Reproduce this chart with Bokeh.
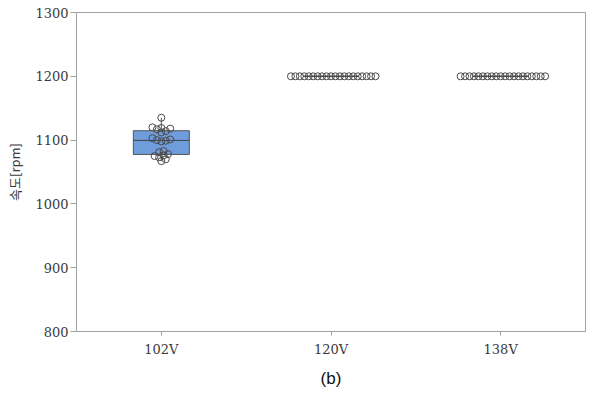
import numpy as np
from bokeh.plotting import figure
from bokeh.models import Range1d, FixedTicker
from bokeh.embed import file_html
from bokeh.resources import INLINE

categories = ["102V", "120V", "138V"]
speed_102 = [1135, 1120, 1119, 1118, 1117, 1114, 1112, 1103, 1101, 1100,
             1099, 1098, 1083, 1081, 1078, 1076, 1075, 1073, 1070, 1067]
speed_120 = [1200] * 20
speed_138 = [1200] * 20
groups = [speed_102, speed_120, speed_138]
y_ticks = [800, 900, 1000, 1100, 1200, 1300]

W, H = 589, 408
L, R, T, B = 76, 4, 12, 77
frame_w = W - L - R
frame_h = H - T - B
px_x = frame_w / 3.0
px_y = frame_h / 500.0

p = figure(width=W, height=H, output_backend="svg", toolbar_location=None,
           x_range=Range1d(0, 3), y_range=Range1d(800, 1300),
           min_border_left=L, min_border_right=R, min_border_top=T, min_border_bottom=B)
p.background_fill_color = "white"
p.border_fill_color = "white"
p.outline_line_color = "#a0a0a0"
p.outline_line_width = 1
p.xgrid.visible = False
p.ygrid.visible = False

# boxes
centers = [i + 0.5 for i in range(3)]
q1s, meds, q3s, los, his = [], [], [], [], []
for g in groups:
    a = np.array(g, dtype=float)
    q1, med, q3 = np.percentile(a, [25, 50, 75])
    iqr = q3 - q1
    lo = a[a >= q1 - 1.5 * iqr].min()
    hi = a[a <= q3 + 1.5 * iqr].max()
    q1s.append(q1); meds.append(med); q3s.append(q3); los.append(lo); his.append(hi)

bw = 0.33
p.segment(x0=centers, y0=q3s, x1=centers, y1=his, line_color="#555555", line_width=1)
p.segment(x0=centers, y0=los, x1=centers, y1=q1s, line_color="#555555", line_width=1)
p.vbar(x=centers, top=q3s, bottom=q1s, width=bw, fill_color="#6f9ddc",
       line_color="#555555", line_width=1)
p.segment(x0=[c - bw / 2 for c in centers], y0=meds, x1=[c + bw / 2 for c in centers],
          y1=meds, line_color="#444444", line_width=1)

# beeswarm (collision distance smaller than marker -> overlapping look)
d = 4.45
xs, ys = [], []
for c, g in zip(centers, groups):
    placed = []
    for v in sorted(g):
        vy = v * px_y
        k = 0
        while True:
            cand = [0.0] if k == 0 else [k * d * 0.5, -k * d * 0.5]
            ok_pos = None
            for off in cand:
                if all((off - ox) ** 2 + (vy - oy) ** 2 >= (d * 0.98) ** 2 for ox, oy in placed):
                    ok_pos = off
                    break
            if ok_pos is not None:
                placed.append((ok_pos, vy))
                break
            k += 1
    for o, vy in placed:
        xs.append(c + o / px_x)
        ys.append(vy / px_y)

p.scatter(x=xs, y=ys, size=7, marker="circle", fill_alpha=0,
          line_color="#4a4a4a", line_width=1)

p.xaxis.ticker = FixedTicker(ticks=centers)
p.xaxis.major_label_overrides = {c: n for c, n in zip(centers, categories)}
p.xaxis.minor_tick_line_color = None
p.xaxis.major_tick_in = 0
p.xaxis.major_tick_out = 4
p.xaxis.axis_line_color = "#a0a0a0"
p.xaxis.major_tick_line_color = "#a0a0a0"
p.xaxis.major_label_text_font = "DejaVu Serif"
p.xaxis.major_label_text_font_size = "13px"
p.xaxis.major_label_text_color = "#3a3a3a"
p.xaxis.major_label_standoff = 6
p.xaxis.axis_label = "(b)"
p.xaxis.axis_label_text_font = "Liberation Sans"
p.xaxis.axis_label_text_font_style = "normal"
p.xaxis.axis_label_text_font_size = "17px"
p.xaxis.axis_label_text_color = "#111111"
p.xaxis.axis_label_standoff = 9

p.yaxis.ticker = FixedTicker(ticks=y_ticks)
p.yaxis.minor_tick_line_color = None
p.yaxis.major_tick_in = 0
p.yaxis.major_tick_out = 6
p.yaxis.axis_line_color = "#a0a0a0"
p.yaxis.major_tick_line_color = "#a0a0a0"
p.yaxis.major_label_text_font = "DejaVu Serif"
p.yaxis.major_label_text_font_size = "13px"
p.yaxis.major_label_text_color = "#3a3a3a"
p.yaxis.major_label_standoff = 2
p.yaxis.axis_label = "속도[rpm]"
p.yaxis.axis_label_text_font = "Noto Sans CJK KR"
p.yaxis.axis_label_text_font_style = "normal"
p.yaxis.axis_label_text_font_size = "13px"
p.yaxis.axis_label_text_color = "#3a3a3a"
p.yaxis.axis_label_standoff = 8

open("out.html", "w").write(file_html(p, INLINE))
